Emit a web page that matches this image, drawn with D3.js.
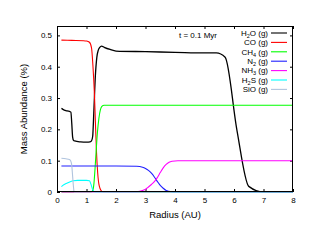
<!DOCTYPE html>
<html><head><meta charset="utf-8">
<script src="https://cdn.jsdelivr.net/npm/d3@7"></script>
<style>body{margin:0;background:#fff}svg{display:block}text{font-family:"Liberation Sans",Arial,sans-serif;fill:#000}</style>
</head><body><svg id="c" width="312" height="241"></svg>
<script>
const xTicks=[0,1,2,3,4,5,6,7,8];
const yTicks=[0,0.1,0.2,0.3,0.4,0.5];
const seriesNames=["H2O","CO","CH4","N2","NH3","H2S","SiO"];
const seriesColors=["#000000","#ff0000","#00ff00","#2020ff","#ff00ff","#00ffff","#b0c4de"];
const h2oR=[0.15,0.2,0.3,0.4,0.47,0.5,0.53,0.56,0.6,0.8,1.0,1.12,1.17,1.21,1.25,1.3,1.35,1.4,1.45,1.51,1.6,1.8,2.0,3.0,4.0,5.0,5.4,5.7,6.1,6.5,7.0,8.0];
const h2oV=[0.267,0.264,0.260,0.258,0.255,0.22,0.175,0.165,0.163,0.160,0.159,0.160,0.163,0.178,0.26,0.37,0.43,0.453,0.462,0.466,0.462,0.455,0.450,0.448,0.446,0.444,0.444,0.430,0.197,0.018,0.0,0.0];
const coR=[0.15,0.5,0.9,1.0,1.1,1.17,1.22,1.27,1.31,1.34,1.38,1.43,1.5,1.56,8.0];
const coV=[0.485,0.484,0.483,0.482,0.478,0.46,0.40,0.31,0.2,0.125,0.06,0.02,0.004,0.0,0.0];
const ch4R=[0.15,1.15,1.2,1.25,1.3,1.33,1.37,1.42,1.47,1.52,1.6,8.0];
const ch4V=[0,0,0.003,0.025,0.09,0.135,0.19,0.235,0.262,0.273,0.277,0.277];
const n2R=[0.15,1.0,2.0,2.7,2.9,3.0,3.1,3.2,3.3,3.4,3.5,3.6,3.7,3.8,3.9,8.0];
const n2V=[0.083,0.083,0.083,0.082,0.079,0.075,0.069,0.06,0.048,0.034,0.021,0.012,0.005,0.002,0,0];
const nh3R=[0.15,2.6,2.8,2.9,3.0,3.1,3.2,3.3,3.4,3.5,3.6,3.7,3.8,3.9,4.1,8.0];
const nh3V=[0,0,0.002,0.005,0.009,0.016,0.024,0.033,0.046,0.062,0.077,0.088,0.095,0.098,0.1,0.1];
const h2sR=[0.15,0.2,0.33,0.45,0.55,0.7,1.0,1.1,1.15,1.2,1.25,1.3,8.0];
const h2sV=[0.017,0.021,0.028,0.033,0.036,0.037,0.037,0.036,0.025,0.01,0.002,0,0];
const sioR=[0.15,0.3,0.42,0.46,0.5,0.53,0.56,0.58,8.0];
const sioV=[0.108,0.106,0.104,0.1,0.085,0.05,0.015,0,0];
const allR=[h2oR,coR,ch4R,n2R,nh3R,h2sR,sioR];
const allV=[h2oV,coV,ch4V,n2V,nh3V,h2sV,sioV];
const legendMain=[["H","2","O (g)"],["CO (g)","",""],["CH","4"," (g)"],["N","2"," (g)"],["NH","3"," (g)"],["H","2","S (g)"],["SiO (g)","",""]];

const svg=d3.select("#c");
const L=57,R=293,T=26,B=192;
const x=d3.scaleLinear().domain([0,8]).range([L,R]);
const y=d3.scaleLinear().domain([0,0.53]).range([B,T]);
const fmtY=d=>d===0?"0":d3.format(".1f")(d);

function styleAxis(g,hide){g.select(".domain").remove();g.selectAll("line").attr("stroke","#000");g.selectAll("text").style("font-size","8px").style("font-family","Liberation Sans, Arial, sans-serif");if(hide)g.selectAll("text").remove();}
svg.append("g").attr("transform",`translate(0,${B})`).call(d3.axisBottom(x).tickValues(xTicks).tickSize(-3).tickPadding(5).tickFormat(d3.format("d"))).call(g=>styleAxis(g,false));
svg.append("g").attr("transform",`translate(0,${T})`).call(d3.axisTop(x).tickValues(xTicks).tickSize(-3)).call(g=>styleAxis(g,true));
svg.append("g").attr("transform",`translate(${L},0)`).call(d3.axisLeft(y).tickValues(yTicks).tickSize(-3).tickPadding(5).tickFormat(fmtY)).call(g=>styleAxis(g,false));
svg.append("g").attr("transform",`translate(${R},0)`).call(d3.axisRight(y).tickValues(yTicks).tickSize(-3)).call(g=>styleAxis(g,true));

const line=d3.line().x(d=>x(d[0])).y(d=>y(d[1])).curve(d3.curveMonotoneX);
svg.append("clipPath").attr("id","clp").append("rect").attr("x",L).attr("y",T).attr("width",R-L).attr("height",B-T+1);
seriesNames.forEach((n,i)=>{
  const pts=allR[i].map((r,j)=>[r,allV[i][j]]);
  svg.append("path").attr("d",line(pts)).attr("fill","none").attr("stroke",seriesColors[i]).attr("stroke-width",i===0?1.3:1.1).attr("clip-path","url(#clp)");
});
svg.append("rect").attr("x",L+0.5).attr("y",T+0.5).attr("width",R-L-1).attr("height",B-T-1).attr("fill","none").attr("stroke","#000").attr("stroke-width",1);

const lg=svg.append("g");
legendMain.forEach((p,i)=>{
  const yy=33+i*9.4;
  const t=lg.append("text").attr("x",268).attr("y",yy+2.8).attr("text-anchor","end").style("font-size","8px");
  t.append("tspan").text(p[0]);
  if(p[1]){t.append("tspan").attr("dy",2).style("font-size","5.5px").text(p[1]);t.append("tspan").attr("dy",-2).text(p[2]);}
  lg.append("line").attr("x1",271).attr("x2",287).attr("y1",yy).attr("y2",yy).attr("stroke",seriesColors[i]).attr("stroke-width",1.1);
});
svg.append("text").attr("x",198).attr("y",38).attr("text-anchor","middle").style("font-size","8px").text("t = 0.1 Myr");
svg.append("text").attr("x",175).attr("y",218).attr("text-anchor","middle").style("font-size","9.5px").text("Radius (AU)");
svg.append("text").attr("transform","translate(27,109) rotate(-90)").attr("text-anchor","middle").style("font-size","9.5px").text("Mass Abundance (%)");
</script></body></html>
